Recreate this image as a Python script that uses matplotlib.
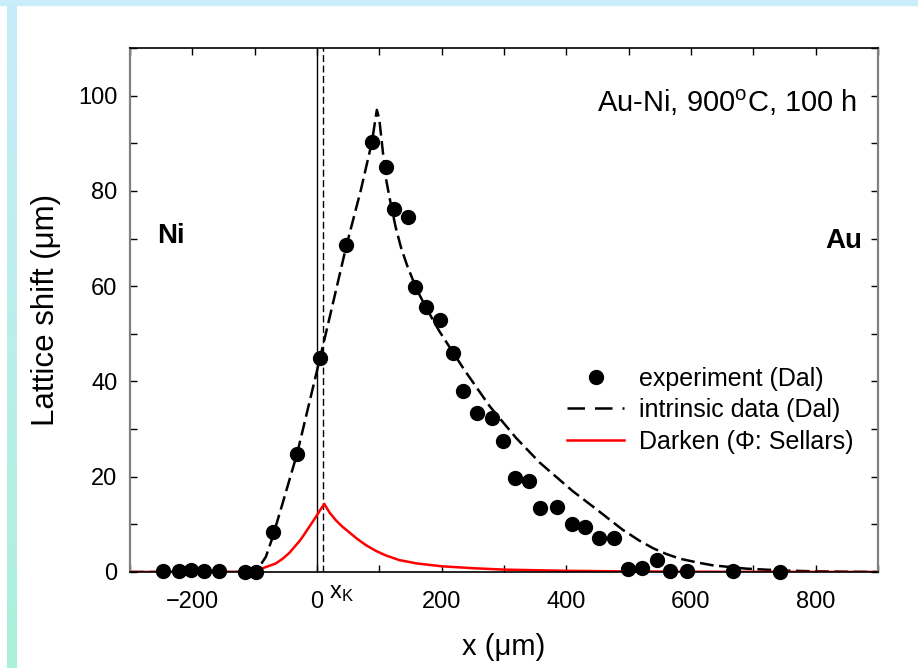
import matplotlib
matplotlib.use('Agg')
import matplotlib.pyplot as plt
import numpy as np
from matplotlib.lines import Line2D
from matplotlib.patches import Rectangle
from matplotlib.ticker import MultipleLocator

plt.rcParams['font.family'] = ['Liberation Sans', 'DejaVu Sans']
plt.rcParams['mathtext.fontset'] = 'custom'
plt.rcParams['mathtext.rm'] = 'Liberation Sans'
plt.rcParams['mathtext.it'] = 'Liberation Sans:italic'

# experiment (Dal)
exp_x = [-247, -222, -202, -181, -157, -115, -98, -71, -32, 5, 47, 88, 110, 124,
         146, 158, 175, 198, 218, 235, 257, 280, 298, 317, 340, 358, 385, 409,
         430, 453, 477, 499, 522, 546, 567, 593, 667, 743]
exp_y = [0.2, 0.2, 0.4, 0.2, 0.2, 0.1, 0.1, 8.5, 24.8, 45, 68.6, 90.2, 85, 76.2,
         74.5, 59.9, 55.6, 52.8, 46, 38.1, 33.3, 32.3, 27.6, 19.8, 19.1, 13.5, 13.6, 10,
         9.4, 7.1, 7.2, 0.6, 0.9, 2.5, 0.2, 0.2, 0.2, 0.1]

# intrinsic data (Dal)
intr_x = [-300, -104, -92, -82, -72, -55, -32, 5, 20, 47, 70, 88, 96, 100, 110,
          118, 126, 135, 145, 160, 175, 196, 236, 277, 319, 357, 410, 448, 490,
          517, 539, 560, 582, 610, 635, 689, 742, 795, 850, 900]
intr_y = [0, 0, 1.2, 3.2, 7, 14.5, 24.8, 45, 53.3, 68.4, 80, 90.2, 97, 95, 83,
          77.5, 72.5, 68, 64.2, 59.3, 55.5, 50.6, 42.5, 34.8, 28.2, 23.0, 17.0, 13.2, 8.9,
          6.6, 5.0, 3.8, 2.8, 2.0, 1.4, 0.7, 0.35, 0.15, 0.05, 0]

# Darken (Phi: Sellars)
dark_x = [-300, -115, -100, -87, -66, -55, -44.5, -28, -23, -1.6, 5, 11.7, 20,
          30, 40, 52, 65, 79, 95, 110, 132, 160, 200, 250, 300, 400, 500, 650, 900]
dark_y = [0, 0, 0.3, 0.8, 1.8, 2.8, 4.0, 6.5, 7.4, 11.6, 13.0, 14.3, 12.5,
          10.9, 9.6, 8.3, 6.9, 5.6, 4.4, 3.5, 2.5, 1.8, 1.2, 0.8, 0.5, 0.25, 0.12, 0.04, 0]

x_matano = 0
x_kirk = 10

fig = plt.figure(figsize=(9.18, 6.68), dpi=100)

# page frame decoration
fig.patches.append(Rectangle((0, 1 - 5 / 668), 1, 5 / 668, transform=fig.transFigure,
                             color='#c9edf9', zorder=0))
strip = fig.add_axes([7 / 918, 0, 10 / 918, 1 - 5 / 668])
grad = np.linspace(0, 1, 256)[:, None, None]
top_c = np.array([200, 236, 250]) / 255.
bot_c = np.array([172, 240, 218]) / 255.
strip.imshow(top_c * (1 - grad) + bot_c * grad, aspect='auto')
strip.axis('off')

ax = fig.add_axes([130 / 918, 96 / 668, 748 / 918, 524 / 668])

ax.axvline(x_matano, color='k', lw=1.0)
ax.axvline(x_kirk, color='k', lw=1.0, ls=(0, (5, 2.5)))

ax.plot(intr_x, intr_y, color='k', lw=1.8, ls=(0, (5.5, 2.2)))
ax.plot(dark_x, dark_y, color='red', lw=1.8)
ax.plot(exp_x, exp_y, 'o', color='k', ms=10, clip_on=False, zorder=5)

ax.set_xlim(-300, 900)
ax.set_ylim(0, 110)
ax.xaxis.set_major_locator(MultipleLocator(200))
ax.xaxis.set_minor_locator(MultipleLocator(100))
ax.yaxis.set_major_locator(MultipleLocator(20))
ax.yaxis.set_minor_locator(MultipleLocator(10))
ax.tick_params(which='both', direction='in', top=True, right=True, length=5, width=1)
ax.tick_params(axis='both', labelsize=17)
ax.tick_params(axis='x', pad=14)
ax.tick_params(axis='y', pad=9)
for s in ['left', 'right']:
    ax.spines[s].set_color('#808080')
    ax.spines[s].set_linewidth(1.6)
for s in ['top', 'bottom']:
    ax.spines[s].set_color('k')
    ax.spines[s].set_linewidth(1.2)

ax.set_xlabel('x (\u03bcm)', fontsize=21, labelpad=14)
ax.set_ylabel('Lattice shift (\u03bcm)', fontsize=22.5, labelpad=12)

ax.text(867, 98.5, 'Au-Ni, 900$^{\\rm o}$C, 100 h', fontsize=21, ha='right', va='center')
ax.text(-257, 70.5, 'Ni', fontsize=20, fontweight='bold', va='center')
ax.text(875, 69.5, 'Au', fontsize=20, fontweight='bold', va='center', ha='right')
ax.text(19, -0.05, 'x$_{\\rm K}$', fontsize=17, va='baseline',
        transform=ax.get_xaxis_transform())

handles = [Line2D([], [], marker='o', ls='none', color='k', ms=10),
           Line2D([], [], color='k', lw=1.8, ls=(0, (7, 4))),
           Line2D([], [], color='red', lw=1.8)]
labels = ['experiment (Dal)', 'intrinsic data (Dal)', 'Darken (\u03a6: Sellars)']
ax.legend(handles, labels, loc='upper left', bbox_to_anchor=(0.584, 0.392),
          frameon=False, fontsize=18, borderpad=0, borderaxespad=0,
          handlelength=2.3, handletextpad=0.6, labelspacing=0.3)

fig.savefig('out.png', dpi=100)
